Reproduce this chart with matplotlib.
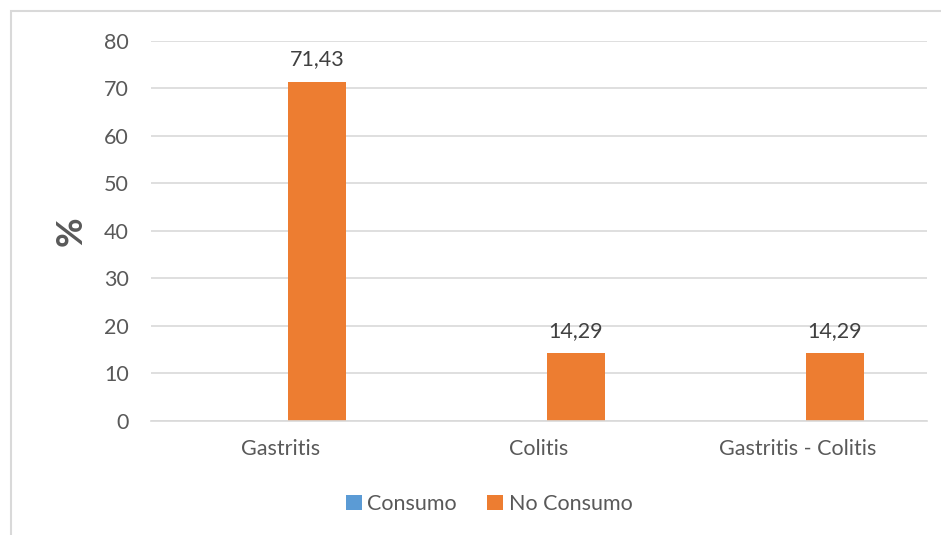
import matplotlib.pyplot as plt
import numpy as np
from matplotlib.patches import Rectangle

plt.rcParams['font.family'] = ['Lato', 'DejaVu Sans']

categorias = ['Gastritis', 'Colitis', 'Gastritis - Colitis']
consumo = [0, 0, 0]
no_consumo = [71.43, 14.29, 14.29]
etiquetas = ['71,43', '14,29', '14,29']

azul = '#5B9BD5'
naranja = '#ED7D31'
gris = '#D9D9D9'
texto = '#595959'

fig = plt.figure(figsize=(9.41, 5.35), dpi=100)
ax = fig.add_axes([0.1605, 0.2131, 0.8246, 0.7103])

x = np.arange(len(categorias))
ancho = 0.224
ax.bar(x - 0.143, consumo, ancho, color=azul, label='Consumo')
barras = ax.bar(x + 0.143, no_consumo, ancho, color=naranja, label='No Consumo')

for b, t in zip(barras, etiquetas):
    ax.annotate(t, (b.get_x() + b.get_width() / 2, b.get_height()),
                xytext=(0, 9), textcoords='offset points',
                ha='center', va='bottom', fontsize=15.5, color='#404040')

ax.set_xlim(-0.5, 2.5)
ax.set_ylim(0, 80)
ax.set_yticks(range(0, 81, 10))
ax.set_xticks(x)
ax.set_xticklabels(categorias)
ax.grid(axis='y', color=gris, linewidth=1.2)
ax.set_axisbelow(True)
for s in ['top', 'right', 'left']:
    ax.spines[s].set_visible(False)
ax.spines['bottom'].set_color(gris)
ax.spines['bottom'].set_linewidth(1.2)
ax.tick_params(axis='both', length=0, labelsize=15.5, colors=texto)
ax.tick_params(axis='y', pad=16)
ax.tick_params(axis='x', pad=13)
ax.set_ylabel('%', fontsize=26, fontweight='bold', color=texto, labelpad=12)

ax.legend(loc='center', bbox_to_anchor=(489 / 941, 1 - 504 / 535),
          bbox_transform=fig.transFigure, ncol=2, frameon=False,
          fontsize=15.5, labelcolor=texto, handlelength=0.75,
          handleheight=0.75, handletextpad=0.25, columnspacing=1.4)

# marco del grafico
fig.patches.append(Rectangle((10.5 / 941, -0.1), 2, 1 - 11 / 535 + 0.1,
                             transform=fig.transFigure, fill=False,
                             edgecolor=gris, linewidth=1.5))

fig.savefig('out.png', dpi=100)
